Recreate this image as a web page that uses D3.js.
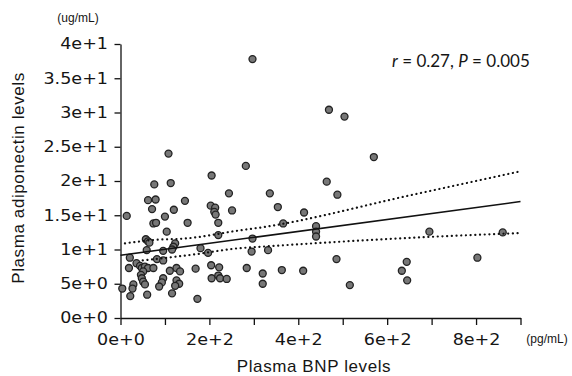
<!DOCTYPE html>
<html>
<head>
<meta charset="utf-8">
<script src="https://cdn.jsdelivr.net/npm/d3@7"></script>
<style>
  body { margin: 0; background: #fff; }
  svg { display: block; }
  .tick text { font-family: "DejaVu Sans", sans-serif; font-size: 15px; fill: #151515; }
  .tick line, .domain { stroke: #111; stroke-width: 1.3; }
</style>
</head>
<body>
<div id="chart"></div>
<script>
// BNP (pg/mL) vs adiponectin (ug/mL)
const bnp = [297, 469, 504, 570, 108, 205, 76, 113, 282, 464, 244, 336, 488, 62, 79, 145, 354, 71, 120,
  203, 213, 211, 214, 251, 413, 14, 100, 74, 80, 151, 220, 366, 440, 440, 440, 104, 220, 297, 57, 62, 65,
  123, 119, 116, 59, 96, 180, 197, 295, 332, 21, 82, 96, 486, 19, 36, 44, 48, 55, 62, 51, 46, 48, 51, 74,
  111, 126, 134, 169, 204, 222, 284, 320, 363, 411, 205, 220, 224, 239, 96, 93, 87, 126, 132, 123, 4, 29,
  27, 55, 22, 60, 116, 173, 320, 516, 644, 633, 645, 695, 803, 860];
const adiponectin = [37.8, 30.4, 29.4, 23.5, 24.0, 20.8, 19.5, 19.7, 22.2, 19.9, 18.2, 18.2, 18.0, 17.2,
  17.3, 17.1, 16.2, 15.9, 15.8, 16.4, 16.1, 15.5, 15.1, 15.7, 15.4, 14.9, 14.8, 13.8, 13.9, 13.9, 13.9,
  13.8, 13.4, 12.6, 11.9, 12.6, 12.1, 11.6, 11.5, 11.2, 11.0, 10.9, 10.4, 10.0, 9.9, 9.8, 10.2, 9.5, 9.7,
  9.9, 8.8, 8.6, 8.4, 8.6, 7.3, 8.0, 7.6, 7.3, 7.5, 7.3, 6.8, 6.3, 5.8, 5.3, 7.3, 6.9, 7.3, 6.8, 7.2, 7.7,
  7.4, 7.3, 6.5, 7.0, 6.9, 5.8, 6.2, 5.8, 5.7, 5.8, 5.2, 4.6, 5.5, 5.0, 4.7, 4.3, 4.9, 4.3, 4.9, 3.2, 3.4,
  3.6, 2.8, 5.0, 4.8, 8.2, 6.9, 5.5, 12.6, 8.8, 12.5];

// fitted line and 95% band
const fitX = [0, 900];
const fitY = [9.15, 17.0];
const upperX = [10, 77, 145, 269, 314, 651, 899];
const upperY = [10.9, 11.4, 11.6, 12.8, 13.2, 17.9, 21.4];
const lowerX = [50, 168, 269, 292, 651, 899];
const lowerY = [8.4, 9.3, 10.2, 10.3, 11.7, 12.4];

const xTicks = [0, 100, 200, 300, 400, 500, 600, 700, 800, 900];
const xTickLabels = ['0e+0', '', '2e+2', '', '4e+2', '', '6e+2', '', '8e+2', ''];
const yTicks = [0, 5, 10, 15, 20, 25, 30, 35, 40];
const yTickLabels = ['0e+0', '5e+0', '1e+1', '1.5e+1', '2e+1', '2.5e+1', '3e+1', '3.5e+1', '4e+1'];

const width = 572;
const height = 376;
const stretch = 1.17; // the scanned tick font is a little wider than DejaVu

const svg = d3.select('#chart')
  .append('svg')
  .attr('width', width)
  .attr('height', height);

svg.append('rect').attr('width', width).attr('height', height).attr('fill', '#fff');

const x = d3.scaleLinear().domain([0, 900]).range([120.5, 520.5]);
const y = d3.scaleLinear().domain([0, 40]).range([318, 44]);

// axes
svg.append('g')
  .attr('transform', 'translate(0,318)')
  .call(d3.axisBottom(x)
    .tickValues(xTicks)
    .tickFormat((d, i) => xTickLabels[i])
    .tickSize(7)
    .tickSizeOuter(0)
    .tickPadding(9))
  .selectAll('.tick text')
  .attr('transform', `scale(${stretch},1)`);

svg.append('g')
  .attr('transform', 'translate(120.5,0)')
  .call(d3.axisLeft(y)
    .tickValues(yTicks)
    .tickFormat((d, i) => yTickLabels[i])
    .tickSize(6)
    .tickSizeOuter(0)
    .tickPadding(6))
  .selectAll('.tick text')
  .attr('x', -12.5 / stretch)
  .attr('transform', `scale(${stretch},1)`);

// points
svg.append('g')
  .selectAll('circle')
  .data(bnp)
  .enter()
  .append('circle')
  .attr('cx', d => x(d))
  .attr('cy', (d, i) => y(adiponectin[i]))
  .attr('r', 3.5)
  .attr('fill', '#777')
  .attr('stroke', '#222')
  .attr('stroke-width', 1.3);

// regression line + band
const line = d3.line()
  .x(d => x(d[0]))
  .y(d => y(d[1]))
  .curve(d3.curveMonotoneX);

svg.append('path')
  .datum(fitX.map((d, i) => [d, fitY[i]]))
  .attr('d', line)
  .attr('fill', 'none')
  .attr('stroke', '#111')
  .attr('stroke-width', 1.5);

[[upperX, upperY], [lowerX, lowerY]].forEach(([bx, by]) => {
  svg.append('path')
    .datum(bx.map((d, i) => [d, by[i]]))
    .attr('d', line)
    .attr('fill', 'none')
    .attr('stroke', '#111')
    .attr('stroke-width', 2.2)
    .attr('stroke-linecap', 'round')
    .attr('stroke-dasharray', '0.1,4.6');
});

// labels
svg.append('text')
  .attr('transform', 'translate(23.5,178) rotate(-90)')
  .attr('text-anchor', 'middle')
  .style('font-family', '"Liberation Sans", Arial, sans-serif')
  .style('font-size', '17px')
  .style('letter-spacing', '0.6px')
  .attr('fill', '#151515')
  .text('Plasma adiponectin levels');

svg.append('text')
  .attr('x', 314)
  .attr('y', 372)
  .attr('text-anchor', 'middle')
  .style('font-family', '"Liberation Sans", Arial, sans-serif')
  .style('font-size', '17px')
  .style('letter-spacing', '0.6px')
  .attr('fill', '#151515')
  .text('Plasma BNP levels');

svg.append('text')
  .attr('x', 78)
  .attr('y', 22)
  .attr('text-anchor', 'middle')
  .style('font-family', '"Liberation Sans", Arial, sans-serif')
  .style('font-size', '12px')
  .attr('fill', '#151515')
  .text('(ug/mL)');

svg.append('text')
  .attr('x', 547)
  .attr('y', 343)
  .attr('text-anchor', 'middle')
  .style('font-family', '"Liberation Sans", Arial, sans-serif')
  .style('font-size', '12px')
  .attr('fill', '#151515')
  .text('(pg/mL)');

const note = svg.append('text')
  .attr('x', 392)
  .attr('y', 67)
  .style('font-family', 'Lato, sans-serif')
  .style('font-size', '17px')
  .attr('fill', '#151515');
note.append('tspan').style('font-style', 'italic').text('r');
note.append('tspan').text(' = 0.27, ');
note.append('tspan').style('font-style', 'italic').text('P');
note.append('tspan').text(' = 0.005');
</script>
</body>
</html>
